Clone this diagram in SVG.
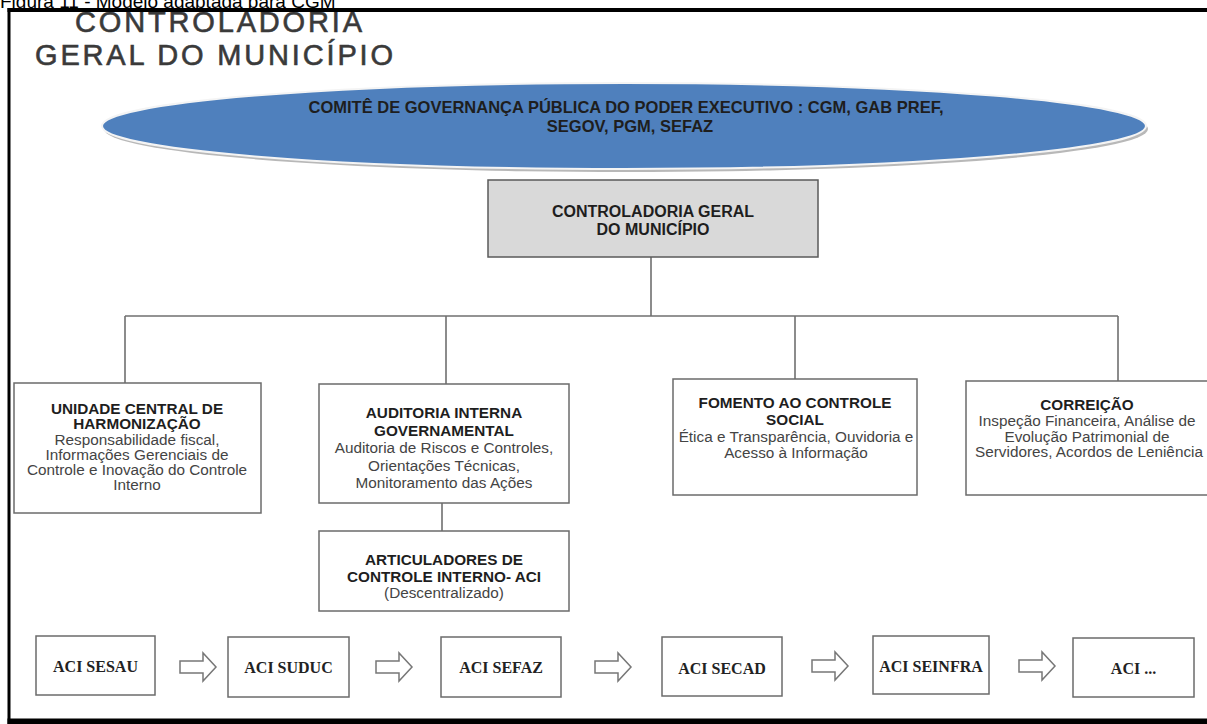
<svg xmlns="http://www.w3.org/2000/svg" width="1207" height="724" viewBox="0 0 1207 724">
<style>
.box{fill:#fff;stroke:#6b6b6b;stroke-width:1.5}
.gbox{fill:#d9d9d9;stroke:#5a5a5a;stroke-width:1.5}
.b{font-family:"Liberation Sans",Arial,sans-serif;font-weight:bold;font-size:15.3px;fill:#1e1e1e;text-anchor:middle}
.r{font-family:"Liberation Sans",Arial,sans-serif;font-size:15.3px;fill:#444;text-anchor:middle}
.aci{font-family:"Liberation Serif","Times New Roman",serif;font-weight:bold;font-size:16px;fill:#222;text-anchor:middle}
.conn{stroke:#707070;stroke-width:1.6;fill:none}
.arr{fill:#fff;stroke:#777;stroke-width:1.5}
.title{font-family:"Liberation Sans",Arial,sans-serif;font-size:29px;fill:#3a3a3a;stroke:#3a3a3a;stroke-width:0.6}
</style>
<defs>
<path id="blockArrow" d="M0,-6 H23 V-14 L36,0 L23,14 V6 H0 Z"/>
</defs>
<rect width="1207" height="724" fill="#fff"/>
<text x="0" y="8" font-family="Liberation Sans, Arial, sans-serif" font-size="19" fill="#000">Figura 11 - Modelo adaptada para CGM</text>
<g id="header">
<text class="title" x="75" y="32" textLength="287" lengthAdjust="spacing">CONTROLADORIA</text>
<text class="title" x="35" y="65" textLength="358" lengthAdjust="spacing">GERAL DO MUNICÍPIO</text>
</g>
<g id="frame" fill="#000">
<rect x="7.5" y="8" width="1200" height="4"/>
<rect x="7.5" y="8" width="3" height="716"/>
<rect x="7.5" y="718.5" width="1200" height="6"/>
</g>
<g id="comite">
<ellipse cx="626" cy="129" rx="522" ry="43" fill="#9a9a9a" opacity="0.7"/>
<ellipse cx="624" cy="126" rx="522" ry="43" fill="#4f80bd" stroke="#f4f4f4" stroke-width="2"/>
<text class="b" x="626" y="113" style="font-size:16.5px">COMITÊ DE GOVERNANÇA PÚBLICA DO PODER EXECUTIVO : CGM, GAB PREF,</text>
<text class="b" x="630" y="132" style="font-size:16.5px">SEGOV, PGM, SEFAZ</text>
</g>
<g id="connectors">
<path class="conn" d="M651,257 V316 M125,316 H1118 M125,316 V383 M446,316 V384 M795,316 V379 M1118,316 V381 M442,503 V531"/>
<use href="#blockArrow" class="arr" transform="translate(180,667)"/>
<use href="#blockArrow" class="arr" transform="translate(376,667)"/>
<use href="#blockArrow" class="arr" transform="translate(595,667)"/>
<use href="#blockArrow" class="arr" transform="translate(812,666)"/>
<use href="#blockArrow" class="arr" transform="translate(1019,666)"/>
</g>
<g id="cgm">
<rect class="gbox" x="488" y="180" width="330" height="77"/>
<text class="b" x="653" y="217" style="font-size:16px">CONTROLADORIA GERAL</text>
<text class="b" x="653" y="235" style="font-size:16px">DO MUNICÍPIO</text>
</g>
<g id="unidade">
<rect class="box" x="14" y="383" width="247" height="130"/>
<text class="b" x="137" y="414">UNIDADE CENTRAL DE</text>
<text class="b" x="137" y="429">HARMONIZAÇÃO</text>
<text class="r" x="137" y="445">Responsabilidade fiscal,</text>
<text class="r" x="137" y="460">Informações Gerenciais de</text>
<text class="r" x="137" y="475">Controle e Inovação do Controle</text>
<text class="r" x="137" y="490">Interno</text>
</g>
<g id="auditoria">
<rect class="box" x="319" y="384" width="250" height="119"/>
<text class="b" x="444" y="418">AUDITORIA INTERNA</text>
<text class="b" x="444" y="436">GOVERNAMENTAL</text>
<text class="r" x="444" y="453">Auditoria de Riscos e Controles,</text>
<text class="r" x="444" y="471">Orientações Técnicas,</text>
<text class="r" x="444" y="488">Monitoramento das Ações</text>
</g>
<g id="articuladores">
<rect class="box" x="319" y="531" width="250" height="80"/>
<text class="b" x="444" y="565">ARTICULADORES DE</text>
<text class="b" x="444" y="582">CONTROLE INTERNO- ACI</text>
<text class="r" x="444" y="598">(Descentralizado)</text>
</g>
<g id="fomento">
<rect class="box" x="673" y="379" width="244" height="116"/>
<text class="b" x="795" y="408">FOMENTO AO CONTROLE</text>
<text class="b" x="795" y="425">SOCIAL</text>
<text class="r" x="796" y="442">Ética e Transparência, Ouvidoria e</text>
<text class="r" x="796" y="458">Acesso à Informação</text>
</g>
<g id="correicao">
<rect class="box" x="966" y="381" width="260" height="114"/>
<text class="b" x="1087" y="410">CORREIÇÃO</text>
<text class="r" x="1087" y="426">Inspeção Financeira, Análise de</text>
<text class="r" x="1087" y="442">Evolução Patrimonial de</text>
<text class="r" x="1089" y="457">Servidores, Acordos de Leniência</text>
</g>
<g id="aci-sesau">
<rect class="box" x="36" y="636" width="119" height="59"/>
<text class="aci" x="95.5" y="672">ACI SESAU</text>
</g>
<g id="aci-suduc">
<rect class="box" x="228" y="637" width="121" height="60"/>
<text class="aci" x="288.5" y="673">ACI SUDUC</text>
</g>
<g id="aci-sefaz">
<rect class="box" x="441" y="637" width="120" height="60"/>
<text class="aci" x="501" y="673">ACI SEFAZ</text>
</g>
<g id="aci-secad">
<rect class="box" x="662" y="637" width="120" height="59"/>
<text class="aci" x="722" y="674">ACI SECAD</text>
</g>
<g id="aci-seinfra">
<rect class="box" x="873" y="636" width="116" height="58"/>
<text class="aci" x="931" y="672">ACI SEINFRA</text>
</g>
<g id="aci-etc">
<rect class="box" x="1073" y="638" width="121" height="59"/>
<text class="aci" x="1133.5" y="674">ACI ...</text>
</g>
</svg>
